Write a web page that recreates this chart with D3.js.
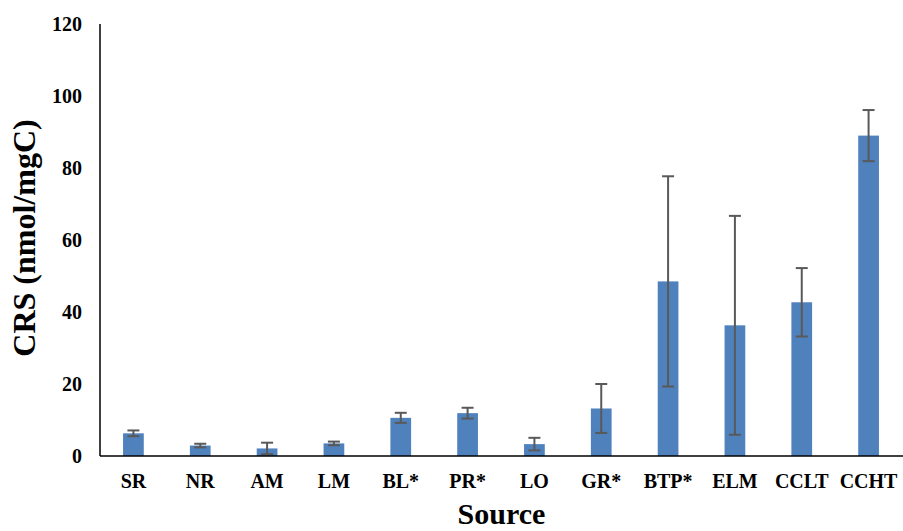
<!DOCTYPE html>
<html>
<head>
<meta charset="utf-8">
<script src="https://d3js.org/d3.v7.min.js"></script>
<style>
    body { margin: 0; background: white; }
</style>
</head>
<body>
<div id="chart"></div>
<script>
    // data
    let sources = ["SR", "NR", "AM", "LM", "BL*", "PR*", "LO", "GR*", "BTP*", "ELM", "CCLT", "CCHT"];
    let crsMean = [6.3, 2.9, 2.1, 3.5, 10.6, 11.9, 3.3, 13.2, 48.5, 36.3, 42.7, 89.0];
    let crsErr = [0.8, 0.5, 1.6, 0.5, 1.4, 1.5, 1.75, 6.8, 29.2, 30.4, 9.5, 7.1];
    let yTicks = [0, 20, 40, 60, 80, 100, 120];

    let width = 903, height = 531;
    let plotLeft = 100, plotRight = 902, plotTop = 24, plotBottom = 456;
    let serif = "'Liberation Serif', 'Times New Roman', Times, 'DejaVu Serif', serif";

    let svg = d3.select("#chart")
        .append("svg")
        .attr("width", width)
        .attr("height", height)
        .style("font-family", serif)
        .style("font-weight", "bold");

    let x = d3.scaleBand()
        .domain(sources)
        .range([plotLeft, plotRight])
        .padding(0);

    let y = d3.scaleLinear()
        .domain([0, 120])
        .range([plotBottom, plotTop]);

    let barW = x.bandwidth() * 0.31;

    // y tick labels (no tick marks)
    svg.selectAll(".ylab")
        .data(yTicks)
        .enter()
        .append("text")
        .attr("x", 82)
        .attr("y", d => y(d) + 7)
        .attr("text-anchor", "end")
        .attr("font-family", serif)
        .attr("font-weight", "bold")
        .attr("font-size", 20)
        .text(d => d);

    // bars
    svg.selectAll(".bar")
        .data(sources)
        .enter()
        .append("rect")
        .attr("x", d => x(d) + (x.bandwidth() - barW) / 2)
        .attr("y", (d, i) => y(crsMean[i]))
        .attr("width", barW)
        .attr("height", (d, i) => plotBottom - y(crsMean[i]))
        .attr("fill", "#4f81bd");

    // error bars
    let eb = svg.selectAll(".err")
        .data(sources)
        .enter()
        .append("g")
        .attr("stroke", "#595959")
        .attr("stroke-width", 2);

    let cx = d => x(d) + x.bandwidth() / 2;

    eb.append("line")
        .attr("x1", cx).attr("x2", cx)
        .attr("y1", (d, i) => y(crsMean[i] + crsErr[i]))
        .attr("y2", (d, i) => y(crsMean[i] - crsErr[i]));
    eb.append("line")
        .attr("x1", d => cx(d) - 6).attr("x2", d => cx(d) + 6)
        .attr("y1", (d, i) => y(crsMean[i] + crsErr[i]))
        .attr("y2", (d, i) => y(crsMean[i] + crsErr[i]));
    eb.append("line")
        .attr("x1", d => cx(d) - 6).attr("x2", d => cx(d) + 6)
        .attr("y1", (d, i) => y(crsMean[i] - crsErr[i]))
        .attr("y2", (d, i) => y(crsMean[i] - crsErr[i]));

    // axis lines
    svg.append("line")
        .attr("x1", plotLeft).attr("x2", plotLeft)
        .attr("y1", plotTop).attr("y2", plotBottom)
        .attr("stroke", "#000").attr("stroke-width", 1.5);
    svg.append("line")
        .attr("x1", plotLeft).attr("x2", width)
        .attr("y1", plotBottom).attr("y2", plotBottom)
        .attr("stroke", "#000").attr("stroke-width", 1.5);

    // x labels
    svg.selectAll(".xlab")
        .data(sources)
        .enter()
        .append("text")
        .attr("x", cx)
        .attr("y", 488)
        .attr("text-anchor", "middle")
        .attr("font-family", serif)
        .attr("font-weight", "bold")
        .attr("font-size", 20)
        .text(d => d);

    // axis titles
    svg.append("text")
        .attr("x", (plotLeft + width) / 2)
        .attr("y", 524)
        .attr("text-anchor", "middle")
        .attr("font-family", serif)
        .attr("font-weight", "bold")
        .attr("font-size", 30)
        .text("Source");

    svg.append("text")
        .attr("transform", "translate(35," + 238 + ") rotate(-90)")
        .attr("text-anchor", "middle")
        .attr("font-family", serif)
        .attr("font-weight", "bold")
        .attr("font-size", 32)
        .text("CRS (nmol/mgC)");
</script>
</body>
</html>
